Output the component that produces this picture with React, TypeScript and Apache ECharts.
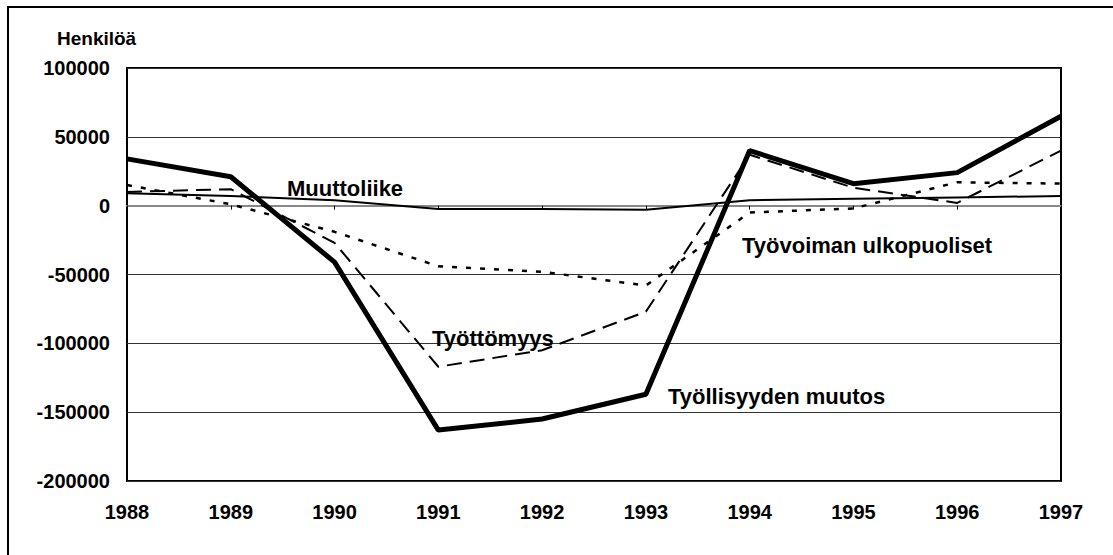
import React, { useEffect, useRef } from "react";
import * as echarts from "echarts";

const years = ["1988", "1989", "1990", "1991", "1992", "1993", "1994", "1995", "1996", "1997"];
const tyollisyys = [34000, 21000, -41000, -163000, -155000, -137000, 40000, 16000, 24000, 65000];
const tyottomyys = [10000, 12000, -27000, -117000, -105000, -77000, 37000, 13000, 2000, 40000];
const ulkopuoliset = [15000, 1000, -19000, -44000, -48000, -58000, -5000, -2000, 17000, 16000];
const muuttoliike = [9000, 7000, 4000, -2500, -2500, -3000, 4000, 5000, 6000, 7000];

const FONT = "'Liberation Sans', Arial, sans-serif";

export default function App() {
  const ref = useRef<HTMLDivElement>(null);
  useEffect(() => {
    if (!ref.current) return;
    const chart = echarts.init(ref.current, undefined, { renderer: "svg" });
    chart.setOption({
      animation: false,
      backgroundColor: "#fff",
      textStyle: { fontFamily: FONT },
      grid: {
        left: 127, right: 52, top: 68, bottom: 74,
        show: true, borderColor: "#000", borderWidth: 2, backgroundColor: "transparent",
      },
      xAxis: [
        {
          type: "category", data: years, boundaryGap: false,
          axisLine: { onZero: true, lineStyle: { color: "#888", width: 2 } },
          axisTick: { show: true, length: 4, lineStyle: { color: "#000", width: 1 } },
          axisLabel: { show: false },
          splitLine: { show: false },
          z: 1,
        },
        {
          type: "category", data: years, boundaryGap: false, position: "bottom",
          axisLine: { show: false, onZero: false },
          axisTick: { show: false },
          axisLabel: { show: true, margin: 21, color: "#000", fontSize: 20, fontWeight: "bold", fontFamily: FONT },
          splitLine: { show: false },
        },
      ],
      yAxis: {
        type: "value", min: -200000, max: 100000, interval: 50000,
        axisLine: { show: false }, axisTick: { show: false },
        axisLabel: {
          margin: 17, color: "#000", fontSize: 20, fontWeight: "bold", fontFamily: FONT,
          formatter: (v: number) => String(v),
        },
        splitLine: { show: true, lineStyle: { color: "#333", width: 1 } },
      },
      graphic: [
        { type: "rect", shape: { x: 8, y: 7, width: 1200, height: 700 }, style: { fill: "none", stroke: "#000", lineWidth: 2 }, z: 100 },
        { type: "text", x: 57, y: 38, style: { text: "Henkilöä", font: `bold 19px ${FONT}`, fill: "#000", textVerticalAlign: "middle" }, z: 100 },
        { type: "text", x: 287, y: 188, style: { text: "Muuttoliike", font: `bold 22px ${FONT}`, fill: "#000", textVerticalAlign: "middle" }, z: 100 },
        { type: "text", x: 742, y: 245, style: { text: "Työvoiman ulkopuoliset", font: `bold 22px ${FONT}`, fill: "#000", textVerticalAlign: "middle" }, z: 100 },
        { type: "text", x: 432, y: 338, style: { text: "Työttömyys", font: `bold 22px ${FONT}`, fill: "#000", textVerticalAlign: "middle" }, z: 100 },
        { type: "text", x: 668, y: 396, style: { text: "Työllisyyden muutos", font: `bold 22px ${FONT}`, fill: "#000", textVerticalAlign: "middle" }, z: 100 },
      ],
      series: [
        {
          name: "Muuttoliike", type: "line", data: muuttoliike, symbol: "none",
          lineStyle: { color: "#000", width: 2 }, z: 3,
        },
        {
          name: "Työvoiman ulkopuoliset", type: "line", data: ulkopuoliset, symbol: "none",
          lineStyle: { color: "#000", width: 2.5, type: [5, 9] }, z: 3,
        },
        {
          name: "Työttömyys", type: "line", data: tyottomyys, symbol: "none",
          lineStyle: { color: "#000", width: 2, type: [15, 8] }, z: 3,
        },
        {
          name: "Työllisyyden muutos", type: "line", data: tyollisyys, symbol: "none",
          lineStyle: { color: "#000", width: 5 }, z: 4,
        },
      ],
    });
    return () => chart.dispose();
  }, []);
  return <div ref={ref} style={{ width: 1113, height: 555, position: "absolute", left: 0, top: 0 }} />;
}
